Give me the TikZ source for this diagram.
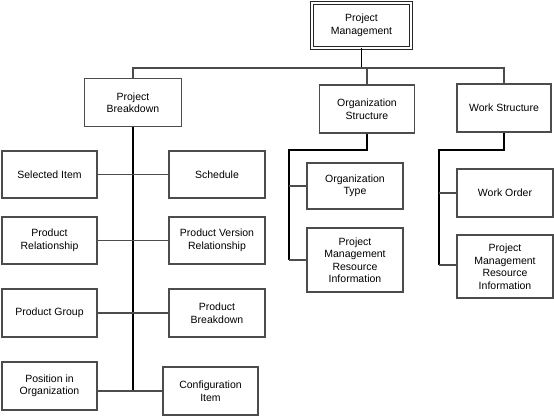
\documentclass[tikz,border=0pt]{standalone}
\usepackage{fontspec}
\setmainfont{Liberation Sans}
\begin{document}
\begin{tikzpicture}[x=1pt,y=-1pt,font=\fontsize{10.5}{12.5}\selectfont]
    \tikzstyle{box}=[draw=black!70,line width=1.1pt,align=center,inner sep=0pt,fill=white]
    \tikzstyle{top box}=[box,double=white,double distance=1.6pt,draw=black!85,line width=0.9pt]
    \tikzstyle{trunk}=[draw=black,line width=1.7pt]
    \tikzstyle{stub}=[draw=black!70,line width=1.1pt]
    \useasboundingbox (0,0) rectangle (554,416);
    % Root and the three sub trees
      \node[top box, minimum width=99pt, minimum height=45pt] (PM) at (361.5,25.5) {Project\\Management};
      \node[box, minimum width=97pt, minimum height=48pt] (PB) at (133,102.5) {Project\\Breakdown};
      \node[box, minimum width=95pt, minimum height=48pt] (OS) at (367,109) {Organization\\Structure};
      \node[box, minimum width=94pt, minimum height=48pt] (WS) at (504,108) {Work Structure};
    % Project Breakdown children
      \node[box, minimum width=95pt, minimum height=47pt] (SI) at (49.5,174.5) {Selected Item};
      \node[box, minimum width=96pt, minimum height=47pt] (SC) at (217,174.5) {Schedule};
      \node[box, minimum width=95pt, minimum height=47pt] (PR) at (49.5,240.5) {Product\\Relationship};
      \node[box, minimum width=96pt, minimum height=47pt] (PVR) at (217,240.5) {Product Version\\Relationship};
      \node[box, minimum width=95pt, minimum height=48pt] (PG) at (49.5,313) {Product Group};
      \node[box, minimum width=96pt, minimum height=48pt] (PBD) at (217,313) {Product\\Breakdown};
      \node[box, minimum width=95pt, minimum height=48pt] (PIO) at (49.5,386) {Position in\\Organization};
      \node[box, minimum width=95pt, minimum height=48pt] (CI) at (210.5,391) {Configuration\\Item};
    % Organization and work children
      \node[box, minimum width=96pt, minimum height=46pt] (OT) at (355,186) {Organization\\Type};
      \node[box, minimum width=96pt, minimum height=64pt] (OR) at (355,260) {Project\\Management\\Resource\\Information};
      \node[box, minimum width=96pt, minimum height=48pt] (WO) at (505,193) {Work Order};
      \node[box, minimum width=96pt, minimum height=63pt] (WR) at (505,266.5) {Project\\Management\\Resource\\Information};
      \coordinate (X) at (361.5,68);
      \coordinate (X1) at (289,150);
      \coordinate (X2) at (439,150);

    \draw[trunk] (PM) -- (X);
    \draw[stub] (PB.north) -- (PB.north |- X) -- (WS.north |- X) -- (WS.north);
    \draw[stub] (OS.north) -- (OS.north |- X);

    \draw[trunk] (PB.south) -- (PB.south |- CI.west);
    \draw[stub] (SI.east) -- (SC.west);
    \draw[stub] (PR.east) -- (PVR.west);
    \draw[stub] (PG.east) -- (PBD.west);
    \draw[stub] (PIO.east |- CI.west) -- (CI.west);

    \draw[trunk] (OS.south) -- (OS.south |- X1) -- (X1) -- (X1 |- OR.west);
    \draw[stub] (X1 |- OT.west) -- (OT.west);
    \draw[stub] (X1 |- OR.west) -- (OR.west);

    \draw[trunk] (WS.south) -- (WS.south |- X2) -- (X2) -- (X2 |- 0,265);
    \draw[stub] (X2 |- WO.west) -- (WO.west);
    \draw[stub] (X2 |- 0,265) -- (WR.west |- 0,265);
\end{tikzpicture}
\end{document}
